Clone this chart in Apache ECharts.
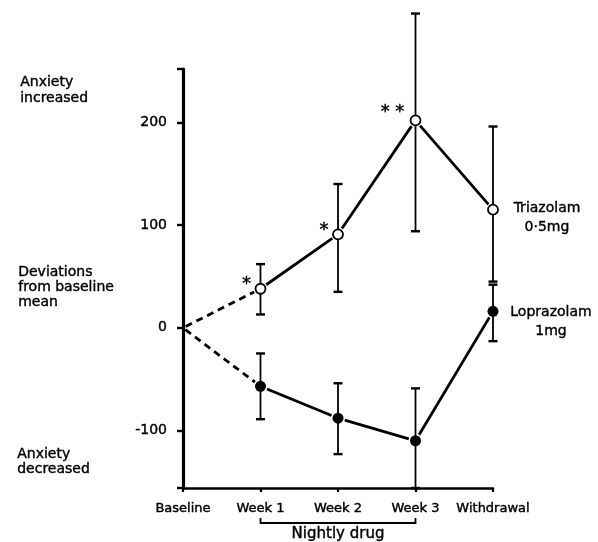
<!DOCTYPE html>
<html><head><meta charset="utf-8">
<script src="https://cdn.jsdelivr.net/npm/echarts@6/dist/echarts.min.js"></script>
<style>html,body{margin:0;padding:0;background:#fff}#c{width:598px;height:542px}</style>
</head><body><div id="c"></div>
<script>
const categories = ['Baseline', 'Week 1', 'Week 2', 'Week 3', 'Withdrawal'];
const triazolamMean = [0, 38, 91, 202, 115];
const triazolamLow  = [null, 13, 35, 94, 45];
const triazolamHigh = [null, 62, 140, 306, 196];
const loprazolamMean = [0, -57, -88, -110, 16];
const loprazolamLow  = [null, -89, -123, -156, -13];
const loprazolamHigh = [null, -25, -54, -59, 42];
const starLabels = ['', '*', '*', '* *', ''];
const yTickLabels = [-100, 0, 100, 200];
const Y_MIN = -156, Y_MAX = 252;

const FONT = 'DejaVu Sans';
const TB = { textBorderColor: '#000', textBorderWidth: 0.4 };
const GS = { stroke: '#000', lineWidth: 0.4 };

function pts(mean) { return mean.map((v, i) => [i, v]); }
function errData(low, high) {
  const d = [];
  low.forEach((v, i) => { if (v !== null) d.push([i, v, high[i]]); });
  return d;
}
function segData(mean) {
  const d = [];
  for (let i = 0; i < mean.length - 1; i++) d.push([i, mean[i], i + 1, mean[i + 1]]);
  return d;
}

function segItem(params, api) {
  const a = api.coord([api.value(0), api.value(1)]);
  const b = api.coord([api.value(2), api.value(3)]);
  const dx = b[0] - a[0], dy = b[1] - a[1];
  const L = Math.sqrt(dx * dx + dy * dy);
  const ux = dx / L, uy = dy / L;
  const s0 = api.value(0) === 0 ? 3 : 7, s1 = 7;
  const dashed = api.value(0) === 0;
  return {
    type: 'line',
    shape: { x1: a[0] + ux * s0, y1: a[1] + uy * s0, x2: b[0] - ux * s1, y2: b[1] - uy * s1 },
    style: { stroke: '#000', lineWidth: 2.8, lineDash: dashed ? [7, 5] : null }
  };
}
function errItem(params, api) {
  const x = api.value(0);
  const lo = api.coord([x, api.value(1)]);
  const hi = api.coord([x, api.value(2)]);
  const w = 4.5;
  const st = { stroke: '#000', lineWidth: 1.8 };
  return {
    type: 'group', children: [
      { type: 'line', shape: { x1: lo[0], y1: lo[1], x2: hi[0], y2: hi[1] }, style: st },
      { type: 'line', shape: { x1: lo[0] - w, y1: lo[1], x2: lo[0] + w, y2: lo[1] }, style: { stroke: '#000', lineWidth: 2.4 } },
      { type: 'line', shape: { x1: hi[0] - w, y1: hi[1], x2: hi[0] + w, y2: hi[1] }, style: { stroke: '#000', lineWidth: 2.4 } }
    ]
  };
}
function starItem(params, api) {
  const i = api.value(0);
  const p = api.coord([i, api.value(1)]);
  const txt = starLabels[i];
  if (!txt) return null;
  const off = i === 3 ? [-23, -8] : [-14, -4];
  return {
    type: 'text', x: p[0] + off[0], y: p[1] + off[1],
    style: Object.assign({ text: txt, font: '18px ' + FONT, fill: '#000', align: 'center', verticalAlign: 'middle' }, GS)
  };
}
function bracketItem(params, api) {
  const a = api.coord([1, Y_MIN]);
  const b = api.coord([3, Y_MIN]);
  const y = a[1] + 35;
  return {
    type: 'group', children: [
      { type: 'polyline', shape: { points: [[a[0], y - 5], [a[0], y], [b[0], y], [b[0], y - 5]] }, style: { stroke: '#000', lineWidth: 1.8, fill: null } },
      { type: 'text', x: (a[0] + b[0]) / 2, y: y + 11, style: Object.assign({ text: 'Nightly drug', font: '15px ' + FONT, fill: '#000', align: 'center', verticalAlign: 'middle' }, GS) }
    ]
  };
}

const chart = echarts.init(document.getElementById('c'), null, { renderer: 'canvas' });
chart.setOption({
  animation: false,
  backgroundColor: '#fff',
  grid: { left: 183, right: 105, top: 69, bottom: 54 },
  xAxis: {
    type: 'value', min: 0, max: categories.length - 1, interval: 1,
    splitLine: { show: false },
    axisLine: { onZero: false, lineStyle: { color: '#000', width: 2.6 } },
    axisTick: { length: 4, lineStyle: { color: '#000', width: 2.2 } },
    axisLabel: Object.assign({ color: '#000', fontFamily: FONT, fontSize: 13, margin: 14, formatter: v => categories[v] || '' }, TB)
  },
  yAxis: {
    type: 'value', min: Y_MIN, max: Y_MAX,
    splitLine: { show: false },
    axisLine: { onZero: false, lineStyle: { color: '#000', width: 3.2 } },
    axisTick: { length: 6, lineStyle: { color: '#000', width: 2.4 } },
    axisLabel: Object.assign({ color: '#000', fontFamily: FONT, fontSize: 14, margin: 16,
      formatter: v => yTickLabels.indexOf(v) >= 0 ? String(v) : '' }, TB)
  },
  series: [
    { type: 'custom', renderItem: segItem, data: segData(triazolamMean), clip: false, z: 2 },
    { type: 'custom', renderItem: segItem, data: segData(loprazolamMean), clip: false, z: 2 },
    { type: 'custom', renderItem: errItem, data: errData(triazolamLow, triazolamHigh), clip: false, z: 3 },
    { type: 'custom', renderItem: errItem, data: errData(loprazolamLow, loprazolamHigh), clip: false, z: 3 },
    { type: 'scatter', data: pts(triazolamMean).slice(1), symbol: 'circle', symbolSize: 10,
      itemStyle: { color: '#fff', borderColor: '#000', borderWidth: 1.8, opacity: 1 }, z: 5 },
    { type: 'scatter', data: pts(loprazolamMean).slice(1), symbol: 'circle', symbolSize: 11,
      itemStyle: { color: '#000', opacity: 1 }, z: 5 },
    { type: 'custom', renderItem: starItem, data: pts(triazolamMean), clip: false, z: 6 },
    { type: 'custom', renderItem: bracketItem, data: [[0, 0]], clip: false, z: 6 }
  ],
  graphic: [
    { type: 'text', left: 20, top: 74, style: Object.assign({ text: 'Anxiety\nincreased', font: '14px ' + FONT, lineHeight: 16, fill: '#000' }, GS) },
    { type: 'text', left: 18, top: 265, style: Object.assign({ text: 'Deviations\nfrom baseline\nmean', font: '14px ' + FONT, lineHeight: 15, fill: '#000' }, GS) },
    { type: 'text', left: 17, top: 447, style: Object.assign({ text: 'Anxiety\ndecreased', font: '14px ' + FONT, lineHeight: 15, fill: '#000' }, GS) },
    { type: 'text', x: 547, y: 218, style: Object.assign({ text: 'Triazolam\n0·5mg', font: '14px ' + FONT, lineHeight: 19, fill: '#000', align: 'center', verticalAlign: 'middle' }, GS) },
    { type: 'text', x: 551, y: 322, style: Object.assign({ text: 'Loprazolam\n1mg', font: '14px ' + FONT, lineHeight: 19, fill: '#000', align: 'center', verticalAlign: 'middle' }, GS) }
  ]
});
</script>
</body></html>
